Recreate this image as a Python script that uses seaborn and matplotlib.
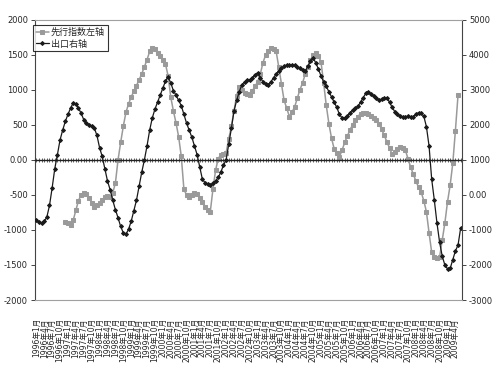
import numpy as np
import pandas as pd
import seaborn as sns
import matplotlib.pyplot as plt

# monthly series, 1996-01 .. 2009-06
months = pd.date_range("1996-01-01", periods=162, freq="MS")

# 出口 (right axis)
exports = [
    -710, -780, -800, -750, -630, -300, 200, 750, 1150, 1570,
    1850, 2100, 2300, 2480, 2630, 2600, 2480, 2330, 2150, 2060,
    2000, 1960, 1910, 1700, 1350, 1100, 750, 400, 150, -150,
    -420, -650, -900, -1080, -1120, -980, -750, -450, -150, 250,
    650, 1000, 1400, 1850, 2200, 2450, 2650, 2850, 3050, 3250,
    3370, 3200, 2980, 2850, 2700, 2550, 2300, 2050, 1850, 1650,
    1400, 1150, 800, 450, 350, 300, 280, 330, 400, 500,
    650, 850, 1000, 1450, 1900, 2400, 2700, 2950, 3150, 3230,
    3270, 3290, 3350, 3430, 3490, 3350, 3230, 3160, 3150, 3230,
    3350, 3450, 3550, 3620, 3680, 3710, 3720, 3710, 3700, 3660,
    3630, 3560, 3530, 3680, 3820, 3910, 3780, 3600, 3400, 3230,
    3100, 2950, 2800, 2650, 2500, 2300, 2200, 2200, 2250, 2350,
    2430, 2480, 2530, 2650, 2780, 2900, 2940, 2880, 2830, 2770,
    2710, 2730, 2760, 2770, 2650, 2500, 2380, 2300, 2250, 2230,
    2230, 2250, 2220, 2240, 2300, 2350, 2330, 2250, 1950, 1400,
    450, -150, -800, -1350, -1750, -2000, -2110, -2100, -1850, -1600,
    -1430, -940,
]

# 先行指数 (left axis), starts 1996-12, ends one month earlier
leading = [np.nan] * 11 + [
    -886, -900, -929, -860, -720, -580, -500, -470, -490, -543,
    -610, -670, -650, -614, -570, -529, -520, -529, -470, -330,
    0, 250, 480, 680, 800, 900, 980, 1060, 1143, 1230,
    1330, 1430, 1550, 1600, 1580, 1520, 1480, 1420, 1370, 1200,
    900, 700, 529, 330, 50, -420, -500, -529, -500, -470,
    -480, -540, -600, -670, -720, -740, -420, -150, 20, 70,
    80, 100, 300, 480, 700, 920, 1043, 1000, 960, 940,
    929, 990, 1050, 1120, 1230, 1390, 1500, 1560, 1600, 1590,
    1550, 1320, 1080, 850, 740, 620, 680, 757, 880, 1000,
    1100, 1220, 1320, 1420, 1500, 1529, 1490, 1400, 1100, 780,
    520, 310, 160, 100, 45, 140, 250, 340, 430, 500,
    570, 620, 660, 672, 665, 650, 630, 600, 570, 510,
    440, 350, 260, 170, 80, 110, 160, 190, 170, 140,
    20, -100, -200, -300, -390, -460, -580, -740, -1040, -1320,
    -1380, -1400, -1390, -1150, -900, -600, -360, -50, 420, 930,
] + [np.nan]

left_ticks = [-2000, -1500, -1000, -500, 0, 500, 1000, 1500, 2000]
left_labels = ["-2000", "-1500", "-1000", "-500", "0.00", "500", "1000", "1500", "2000"]
right_ticks = [-3000, -2000, -1000, 0, 1000, 2000, 3000, 4000, 5000]
right_labels = ["-3000", "-2000", "-1000", "0.00", "1000", "2000", "3000", "4000", "5000"]

df = pd.DataFrame({"idx": range(len(months)), "leading": leading, "exports": exports})
label_pos = list(range(0, len(months), 3))
label_txt = [f"{m.year}年{m.month}月" for m in months[label_pos]]

sns.set_style("white")
plt.rcParams["font.family"] = ["DejaVu Sans", "Noto Sans CJK SC"]

fig = plt.figure(figsize=(5, 3.75), dpi=100)
ax = fig.add_subplot(111)
fig.subplots_adjust(left=0.07, right=0.924, bottom=0.2, top=0.947)
ax2 = ax.twinx()

sns.lineplot(data=df, x="idx", y="leading", ax=ax, color="#9a9a9a", lw=1.1,
             marker="s", markersize=2.6, markeredgecolor="#9a9a9a",
             label="先行指数左轴", legend=False)
sns.lineplot(data=df, x="idx", y="exports", ax=ax2, color="#1a1a1a", lw=0.9,
             marker="D", markersize=2.0, markeredgecolor="#1a1a1a",
             label="出口右轴", legend=False)

ax.set_xlim(-0.5, len(months) - 0.5)
ax.set_ylim(-2000, 2000)
ax2.set_ylim(-3000, 5000)
ax.set_yticks(left_ticks, left_labels)
ax2.set_yticks(right_ticks, right_labels)
ax.set_xlabel("")
ax.set_ylabel("")
ax2.set_ylabel("")

# zero axis with monthly tick marks
ax.spines["bottom"].set_position(("data", 0))
ax.spines["bottom"].set_color("#222222")
ax.spines["bottom"].set_linewidth(1.0)
ax.set_xticks(range(len(months)))
ax.tick_params(axis="x", direction="inout", length=3, width=0.5,
               color="#222222", labelbottom=False, bottom=True)
ax.tick_params(axis="y", direction="out", length=3, width=0.6,
               labelsize=6, pad=2, left=True)
ax.spines["left"].set_color("#444444")
ax.spines["top"].set_visible(False)
ax.spines["right"].set_visible(False)

ax2.spines["left"].set_visible(False)
ax2.spines["right"].set_color("#444444")
ax2.spines["top"].set_color("#a0a0a0")
ax2.spines["bottom"].set_color("#a0a0a0")
ax2.tick_params(axis="y", direction="out", length=3, width=0.6,
                labelsize=6, pad=2, right=True)

# date labels along the bottom of the plot area
sec = ax.secondary_xaxis(0.0)
sec.set_xticks(label_pos, label_txt)
sec.tick_params(length=0, pad=13, labelsize=5.5, labelrotation=90)
sec.spines["bottom"].set_visible(False)

h1, l1 = ax.get_legend_handles_labels()
h2, l2 = ax2.get_legend_handles_labels()
leg = ax2.legend(h1 + h2, l1 + l2, loc="upper left", bbox_to_anchor=(-0.005, 0.982),
                 fontsize=6.5, frameon=True, fancybox=False, borderaxespad=0,
                 handlelength=1.5, handletextpad=0.2, borderpad=0.3, labelspacing=0.3)
leg.get_frame().set_edgecolor("#000000")
leg.get_frame().set_linewidth(0.8)

plt.savefig("out.png", dpi=100)
plt.close()
